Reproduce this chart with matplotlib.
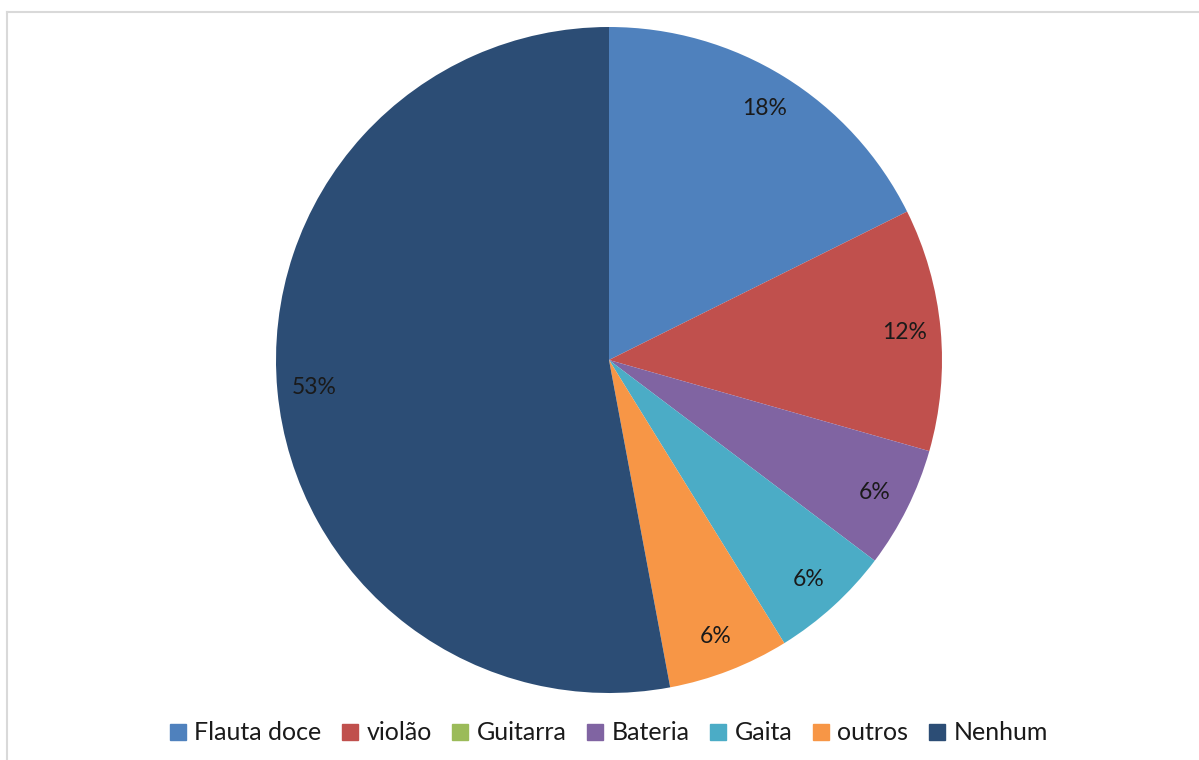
import matplotlib
matplotlib.use("Agg")
import matplotlib.pyplot as plt
from matplotlib.lines import Line2D

categories = ["Flauta doce", "violão", "Guitarra", "Bateria", "Gaita", "outros", "Nenhum"]
counts = [3, 2, 0, 1, 1, 1, 9]
colors = ["#4F81BD", "#C0504D", "#9BBB59", "#8064A2", "#4BACC6", "#F79646", "#2C4D75"]

W, H = 1199, 760
cx, cy, r = 609, 360, 333

plt.rcParams["font.family"] = ["Lato", "DejaVu Sans"]

fig = plt.figure(figsize=(W / 100, H / 100), dpi=100)
ax = fig.add_axes([(cx - r) / W, (H - cy - r) / H, 2 * r / W, 2 * r / H])


def pct_label(p):
    # Excel hides zero slices
    return "" if p < 0.5 else f"{p:.0f}%"


wedges, texts, autotexts = ax.pie(
    counts,
    colors=colors,
    startangle=90,
    counterclock=False,
    radius=1,
    autopct=pct_label,
    pctdistance=0.89,
    wedgeprops={"linewidth": 0},
    textprops={"fontsize": 16.5, "color": "#1a1a1a"},
)
ax.set_xlim(-1, 1)
ax.set_ylim(-1, 1)
ax.set_aspect("equal")
ax.axis("off")

handles = [Line2D([0], [0], marker="s", linestyle="none", markersize=12,
                  markerfacecolor=c, markeredgecolor=c) for c in colors]
fig.legend(handles, categories, loc="center", bbox_to_anchor=(609 / W, 1 - 733 / H),
           ncol=len(categories), frameon=False, fontsize=18, handlelength=0.6,
           handletextpad=0.35, columnspacing=0.85, labelcolor="#1a1a1a")

# chart border: only top and left edges are visible
fig.add_artist(Line2D([7 / W, 1], [1 - 12 / H, 1 - 12 / H], color="#d9d9d9", linewidth=1.5))
fig.add_artist(Line2D([7 / W, 7 / W], [0, 1 - 12 / H], color="#d9d9d9", linewidth=1.5))

fig.savefig("out.png", dpi=100)
